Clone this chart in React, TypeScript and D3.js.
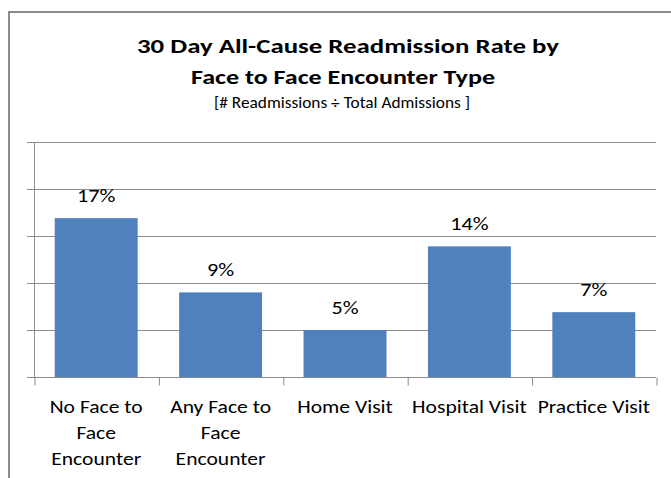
import * as d3 from "d3";
import { useEffect, useRef } from "react";

// Data
const categories = [
  ["No Face to", "Face", "Encounter"],
  ["Any Face to", "Face", "Encounter"],
  ["Home Visit"],
  ["Hospital Visit"],
  ["Practice Visit"],
];
const rates = [0.169, 0.09, 0.05, 0.139, 0.069];
const yTicks = [0, 0.05, 0.1, 0.15, 0.2, 0.25];
const titleLines = ["30 Day All-Cause Readmission Rate by", "Face to Face Encounter Type"];
const subtitle = "[# Readmissions \u00F7 Total  Admissions ]";

const FONT = "Calibri, Carlito, Lato, 'Liberation Sans', sans-serif";
// the source text is a bit wider than Lato, so stretch it horizontally
const STRETCH = 1.2;

const drawChart = (node: SVGSVGElement) => {
  const width = 671;
  const height = 478;
  const margin = { top: 142, right: 15, bottom: 101, left: 34 };

  const svg = d3.select(node);
  svg.selectAll("*").remove();
  svg.attr("width", width).attr("height", height);

  svg.append("rect")
    .attr("width", width)
    .attr("height", height)
    .attr("fill", "#fff");

  // outer chart frame (cropped on the right and bottom)
  svg.append("path")
    .attr("d", `M9,${height} V12 H${width}`)
    .attr("fill", "none")
    .attr("stroke", "#8c8c8c")
    .attr("stroke-width", 2);

  // Title
  const titleWidths = [422, 304];
  const title = svg.append("g").attr("font-family", FONT).attr("text-anchor", "middle");
  title.selectAll("text.t")
    .data(titleLines)
    .join("text")
    .attr("class", "t")
    .attr("x", (d, i) => (i === 0 ? 348 : 343))
    .attr("y", (d, i) => 53 + i * 31)
    .attr("font-size", 21)
    .attr("font-weight", "bold")
    .attr("fill", "#000")
    .attr("textLength", (d, i) => titleWidths[i])
    .attr("lengthAdjust", "spacingAndGlyphs")
    .text(d => d);

  title.append("text")
    .attr("x", 342)
    .attr("y", 108)
    .attr("font-size", 16)
    .attr("fill", "#000")
    .attr("textLength", 256)
    .attr("lengthAdjust", "spacingAndGlyphs")
    .text(subtitle);

  const innerW = width - margin.left - margin.right;
  const innerH = height - margin.top - margin.bottom;

  const g = svg.append("g")
    .attr("transform", `translate(${margin.left},${margin.top})`);

  // Scales
  const xScale = d3.scaleBand<number>()
    .domain(d3.range(categories.length))
    .range([0, innerW])
    .padding(0);

  const yScale = d3.scaleLinear()
    .domain([0, 0.25])
    .range([innerH, 0]);

  // gridlines
  g.selectAll("line.grid")
    .data(yTicks)
    .join("line")
    .attr("class", "grid")
    .attr("x1", -7)
    .attr("x2", innerW)
    .attr("y1", d => Math.round(yScale(d)) + 0.5)
    .attr("y2", d => Math.round(yScale(d)) + 0.5)
    .attr("stroke", "#8c8c8c")
    .attr("stroke-width", 1);

  // y axis line
  g.append("line")
    .attr("x1", 0.5)
    .attr("x2", 0.5)
    .attr("y1", 0)
    .attr("y2", innerH)
    .attr("stroke", "#8c8c8c");

  // Bars
  const barW = xScale.bandwidth() / 1.5;
  g.selectAll("rect.bar")
    .data(rates)
    .join("rect")
    .attr("class", "bar")
    .attr("x", (d, i) => (xScale(i) as number) + (xScale.bandwidth() - barW) / 2)
    .attr("y", d => yScale(d))
    .attr("width", barW)
    .attr("height", d => innerH - yScale(d))
    .attr("fill", "#4f81bd");

  // x axis
  const xAxis = d3.axisBottom(d3.scaleLinear().domain([0, categories.length]).range([0, innerW]))
    .tickValues(d3.range(categories.length + 1))
    .tickSize(8)
    .tickFormat(() => "");
  const xAxisGroup = g.append("g")
    .attr("transform", `translate(0.5, ${Math.round(innerH) + 0.5})`)
    .call(xAxis);
  xAxisGroup.select(".domain").remove();
  xAxisGroup.selectAll("line").attr("stroke", "#8c8c8c");

  // value labels
  g.selectAll("text.val")
    .data(rates)
    .join("text")
    .attr("class", "val")
    .attr("transform", (d, i) =>
      `translate(${(xScale(i) as number) + xScale.bandwidth() / 2},${yScale(d) - 16}) scale(${STRETCH},1)`)
    .attr("text-anchor", "middle")
    .attr("font-family", FONT)
    .attr("font-size", 18.5)
    .attr("fill", "#000")
    .text(d => `${Math.round(d * 100)}%`);

  // category labels
  const cat = g.selectAll("g.cat")
    .data(categories)
    .join("g")
    .attr("class", "cat")
    .attr("transform", (d, i) =>
      `translate(${(xScale(i) as number) + xScale.bandwidth() / 2},${innerH})`);
  cat.selectAll("text")
    .data(d => d)
    .join("text")
    .attr("transform", (d, i) => `translate(0,${35.5 + i * 26}) scale(${STRETCH},1)`)
    .attr("text-anchor", "middle")
    .attr("font-family", FONT)
    .attr("font-size", 18)
    .attr("fill", "#000")
    .text(d => d);
};

export default function App() {
  const ref = useRef<SVGSVGElement>(null);

  useEffect(() => {
    if (ref.current) drawChart(ref.current);
  }, []);

  return (
    <svg ref={ref} style={{ position: "absolute", left: 0, top: 0, display: "block" }} />
  );
}
